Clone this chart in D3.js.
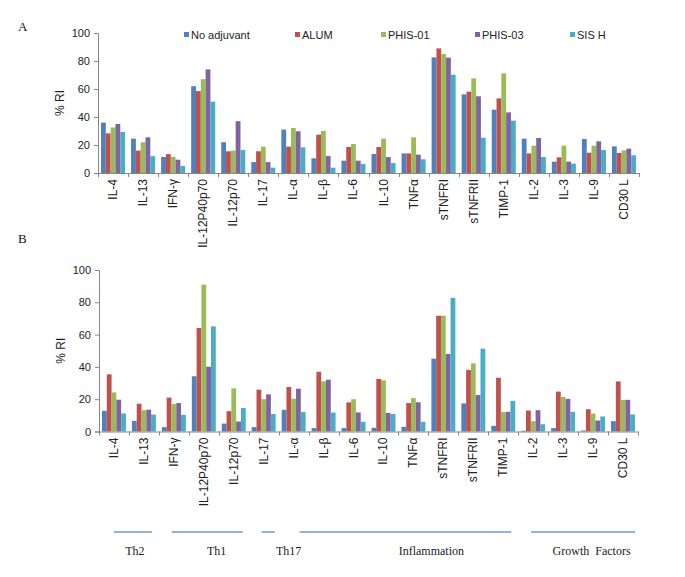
<!DOCTYPE html>
<html><head><meta charset="utf-8">
<script src="https://cdn.jsdelivr.net/npm/d3@7"></script>
<style>
body{margin:0;background:#fff;}
svg{display:block;font-family:"Liberation Sans",Arial,sans-serif;}
</style></head>
<body><svg id="c" width="685" height="577"></svg>
<script>
const categories = ["IL-4","IL-13","IFN-γ","IL-12P40p70","IL-12p70","IL-17","IL-α","IL-β","IL-6","IL-10","TNFα","sTNFRI","sTNFRII","TIMP-1","IL-2","IL-3","IL-9","CD30 L"];
const seriesNames = ["No adjuvant","ALUM","PHIS-01","PHIS-03","SIS H"];
const colors = ["#4F81BD","#C0504D","#9BBB59","#8064A2","#4BACC6"];
const yTicks = [0,20,40,60,80,100];

// Panel A values
const A_noAdjuvant = [36,24.5,11.5,62,22,7.8,31,10.5,8.8,13.6,14,82.6,56.2,45.2,24.5,8.1,24.3,19];
const A_alum       = [28.3,16,13.5,58.5,15.5,15.5,18.8,27.4,18.6,18.6,14,89,58.1,53.3,14,11.2,14.5,14.3];
const A_phis01     = [32.5,22,11.5,67,16,18.8,32.1,30,20.7,24.5,25.5,85,67.6,71.2,19.5,19.5,19.5,16.2];
const A_phis03     = [35,25.5,9.5,74,37,7.8,29.8,12.1,8.8,11.4,13.1,82.4,54.8,43.3,25,8.1,22.6,17.4];
const A_sisH       = [29.3,12,5,51,16.5,3.8,18.3,3.8,6.4,7.1,9.8,70.2,25.2,37.4,11.4,6.7,16.4,12.6];

// Panel B values
const B_noAdjuvant = [12.8,6.6,2.7,34.2,4.9,2.7,13.4,2.1,2.1,2.3,2.9,45.1,17.4,3.5,0.5,2.1,0.6,6.4];
const B_alum       = [35.4,17.2,21,64.1,12.6,25.9,27.6,37,18,32.5,17.6,71.7,38.1,33.3,13,24.7,13.8,31];
const B_phis01     = [24.2,13.2,17,90.9,26.7,20,20.3,31.1,20,31.7,20.7,71.7,42.2,12,6.4,21.4,11.1,19.6];
const B_phis03     = [19.7,13.5,17.6,40.1,6.2,23,26.5,32.1,11.8,11.5,18.1,48,22.6,12.2,13.2,20.2,6.8,19.6];
const B_sisH       = [11.2,10.5,10.3,65.1,14.5,10.8,12,11.7,6,10.8,6,82.7,51.3,19,4.5,12.2,9.3,10.5];

// Category groups (line extents and label centres in category units)
const groupNames = ["Th2","Th1","Th17","Inflammation","Growth  Factors"];
const groupLineStart = [0.5,2.43,5.43,6.7,14.43];
const groupLineEnd   = [1.77,4.8,5.87,13.77,17.9];
const groupLabelPos  = [1.2,3.93,6.33,11.1,16.45];

const svg = d3.select("#c");
const axisColor = "#868686";

function drawPanel(data, x0, x1, yTop, yBot, letter, letterY) {
  const g = svg.append("g");
  const x = d3.scaleBand().domain(categories).range([x0,x1]).paddingInner(0.2).paddingOuter(0.1);
  const xs = d3.scaleBand().domain(seriesNames).range([0,x.bandwidth()]);
  const y = d3.scaleLinear().domain([0,100]).range([yBot,yTop]);
  const step = x.step();

  seriesNames.forEach((s,si)=>{
    g.append("g").selectAll("rect").data(categories).join("rect")
      .attr("x", (c)=>x(c)+xs(s))
      .attr("width", xs.bandwidth())
      .attr("y", (c,i)=>y(data[si][i]))
      .attr("height",(c,i)=>y(0)-y(data[si][i]))
      .attr("fill", colors[si]);
  });

  const ya = g.append("g").attr("transform",`translate(${x0},0)`)
    .call(d3.axisLeft(y).tickValues(yTicks).tickSize(4).tickPadding(4));
  ya.select(".domain").attr("stroke",axisColor);
  ya.selectAll(".tick line").attr("stroke",axisColor);
  ya.selectAll("text").attr("font-size",11).attr("fill","#222").attr("font-family","Liberation Sans, Arial, sans-serif");

  g.append("line").attr("x1",x0).attr("x2",x1).attr("y1",yBot+0.5).attr("y2",yBot+0.5).attr("stroke",axisColor);
  d3.range(categories.length+1).forEach(i=>{
    const xx = Math.round(x0 + i*step)+0.5;
    g.append("line").attr("x1",xx).attr("x2",xx).attr("y1",yBot).attr("y2",yBot+4).attr("stroke",axisColor);
  });
  g.append("g").selectAll("text").data(categories).join("text")
    .attr("transform",c=>`translate(${x(c)+x.bandwidth()/2+4},${yBot+6}) rotate(-90)`)
    .attr("text-anchor","end")
    .attr("font-size",12).attr("fill","#222")
    .text(c=>c);

  g.append("text").attr("transform",`translate(${x0-34},${(yTop+yBot)/2}) rotate(-90)`)
    .attr("text-anchor","middle").attr("font-size",12).attr("fill","#222").text("% RI");

  svg.append("text").attr("x",18).attr("y",letterY).attr("font-family","Liberation Serif, Times New Roman, serif")
    .attr("font-size",13).attr("fill","#111").text(letter);
  return x;
}

drawPanel([A_noAdjuvant,A_alum,A_phis01,A_phis03,A_sisH], 98, 639, 33, 173, "A", 31);
drawPanel([B_noAdjuvant,B_alum,B_phis01,B_phis03,B_sisH], 99, 638, 270, 431.5, "B", 243);

const legendX = [184,295,381,475,570];
const lg = svg.append("g");
seriesNames.forEach((s,i)=>{
  lg.append("rect").attr("x",legendX[i]).attr("y",32).attr("width",5).attr("height",5).attr("fill",colors[i]);
  lg.append("text").attr("x",legendX[i]+7).attr("y",39).attr("font-size",11).attr("fill","#222").text(s);
});

const gx = d3.scaleLinear().domain([0,categories.length]).range([99,638]);
const gg = svg.append("g");
groupNames.forEach((n,i)=>{
  gg.append("line").attr("x1",gx(groupLineStart[i])).attr("x2",gx(groupLineEnd[i]))
    .attr("y1",532).attr("y2",532).attr("stroke","#95B3D7").attr("stroke-width",2);
  gg.append("text").attr("x",gx(groupLabelPos[i])).attr("y",555).attr("text-anchor","middle")
    .attr("font-family","Liberation Serif, Times New Roman, serif").attr("font-size",12).attr("fill","#222")
    .style("white-space","pre").attr("xml:space","preserve").text(n);
});
</script></body></html>
